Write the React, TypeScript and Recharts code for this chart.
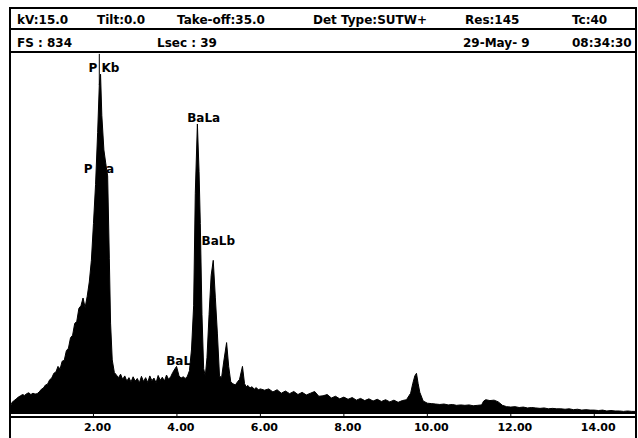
import React from "react";
import { AreaChart, Area, XAxis, YAxis, ReferenceDot, ReferenceLine } from "recharts";

// EDS spectrum, energy in keV, counts (FS = 834)
const KEV = [
  0.0, 0.03, 0.05, 0.1, 0.15, 0.2, 0.25, 0.3, 0.35, 0.4, 0.45, 0.5, 0.55, 0.6, 0.65, 0.7, 0.75, 0.8, 0.85, 0.9,
  0.95, 1.0, 1.05, 1.1, 1.15, 1.2, 1.25, 1.3, 1.35, 1.4, 1.45, 1.5, 1.55, 1.6, 1.65, 1.7, 1.75, 1.8, 1.85, 1.9,
  1.95, 2.0, 2.05, 2.1, 2.14, 2.17, 2.2, 2.25, 2.3, 2.34, 2.38, 2.41, 2.45, 2.5, 2.55, 2.6, 2.65, 2.7, 2.75, 2.8,
  2.85, 2.9, 2.95, 3.0, 3.05, 3.1, 3.15, 3.2, 3.25, 3.3, 3.35, 3.4, 3.45, 3.5, 3.55, 3.6, 3.65, 3.7, 3.75, 3.8,
  3.85, 3.9, 3.95, 3.99, 4.05, 4.1, 4.15, 4.2, 4.25, 4.3, 4.35, 4.4, 4.44, 4.49, 4.53, 4.56, 4.6, 4.64, 4.68, 4.72,
  4.77, 4.82, 4.87, 4.92, 4.97, 5.02, 5.07, 5.12, 5.19, 5.24, 5.29, 5.34, 5.4, 5.45, 5.5, 5.57, 5.62, 5.66, 5.7, 5.75,
  5.8, 5.85, 5.9, 5.95, 6.0, 6.1, 6.2, 6.3, 6.4, 6.5, 6.6, 6.7, 6.8, 6.9, 7.0, 7.1, 7.2, 7.3, 7.4, 7.5,
  7.6, 7.7, 7.8, 7.9, 8.0, 8.1, 8.2, 8.3, 8.4, 8.5, 8.6, 8.7, 8.8, 8.9, 9.0, 9.1, 9.2, 9.3, 9.4, 9.5,
  9.6, 9.65, 9.7, 9.74, 9.78, 9.82, 9.9, 10.0, 10.1, 10.2, 10.3, 10.4, 10.5, 10.6, 10.7, 10.8, 10.9, 11.0, 11.1, 11.2,
  11.3, 11.35, 11.4, 11.5, 11.6, 11.7, 11.8, 11.9, 12.0, 12.1, 12.2, 12.3, 12.4, 12.5, 12.6, 12.7, 12.8, 12.9, 13.0, 13.1,
  13.2, 13.3, 13.4, 13.5, 13.6, 13.7, 13.8, 13.9, 14.0, 14.1, 14.2, 14.3, 14.4, 14.5, 14.6, 14.7, 14.8, 14.9, 15.0,
];

const COUNTS = [
  12, 22, 27, 31, 35, 39, 42, 45, 43, 47, 49, 45, 48, 46, 47, 51, 57, 60, 67, 69,
  79, 83, 94, 97, 110, 104, 122, 124, 146, 152, 176, 182, 209, 214, 244, 250, 268, 246, 272, 305,
  355, 440, 530, 650, 760, 785, 690, 610, 575, 550, 360, 210, 125, 96, 90, 84, 92, 80, 88, 76,
  84, 74, 86, 76, 82, 72, 87, 75, 84, 73, 88, 77, 83, 72, 89, 78, 85, 76, 90, 80,
  86, 96, 104, 110, 88, 83, 86, 82, 87, 100, 150, 250, 510, 670, 560, 440, 230, 105, 88, 130,
  230, 320, 355, 270, 185, 88, 84, 120, 165, 110, 74, 70, 67, 74, 80, 110, 70, 63, 66, 60,
  63, 57, 61, 56, 58, 55, 58, 51, 56, 48, 53, 47, 52, 45, 50, 44, 48, 52, 41, 42,
  45, 37, 41, 35, 39, 34, 38, 32, 36, 31, 35, 30, 34, 29, 33, 28, 32, 27, 31, 33,
  48, 70, 88, 94, 70, 50, 30, 25, 24, 23, 22, 23, 21, 22, 20, 21, 20, 21, 19, 20,
  21, 30, 33, 31, 32, 28, 20, 17, 16, 17, 15, 16, 14, 15, 14, 13, 14, 12, 13, 12,
  12, 11, 12, 10, 11, 9, 10, 9, 9, 8, 9, 7, 8, 7, 7, 6, 7, 6, 6,
];

const X_TICKS = [2, 4, 6, 8, 10, 12, 14];

const HEADER_ROW1 = [
  { text: "kV:15.0", left: 17 },
  { text: "Tilt:0.0", left: 97 },
  { text: "Take-off:35.0", left: 177 },
  { text: "Det Type:SUTW+", left: 313 },
  { text: "Res:145", left: 465 },
  { text: "Tc:40", left: 572 },
];
const HEADER_ROW2 = [
  { text: "FS : 834", left: 17 },
  { text: "Lsec : 39", left: 157 },
  { text: "29-May- 9", left: 463 },
  { text: "08:34:30", left: 572 },
];

const PEAK_LABELS = [
  { text: "P Kb", e: 2.25, c: 800 },
  { text: "P Ka", e: 2.13, c: 566 },
  { text: "BaLa", e: 4.64, c: 684 },
  { text: "BaLb", e: 4.99, c: 401 },
  { text: "BaL", e: 4.04, c: 124 },
];

const data = KEV.map((e, i) => ({ e, c: COUNTS[i] }));

const FONT = '"DejaVu Sans", "Liberation Sans", Arial, sans-serif';

export default function App() {
  return (
    <div
      style={{
        position: "absolute",
        left: 0,
        top: 0,
        width: 638,
        height: 438,
        background: "#fff",
        overflow: "hidden",
        fontFamily: FONT,
        fontWeight: "bold",
        fontSize: 12,
      }}
    >
      {/* outer frame + header rules */}
      <div style={{ position: "absolute", left: 9, top: 7, width: 628, height: 450, border: "2px solid #000", boxSizing: "border-box" }} />
      <div style={{ position: "absolute", left: 9, top: 28, width: 628, height: 2, background: "#000" }} />
      <div style={{ position: "absolute", left: 9, top: 51, width: 628, height: 2, background: "#000" }} />
      <div style={{ position: "absolute", left: 9, top: 416, width: 628, height: 2, background: "#000" }} />

      {HEADER_ROW1.map((h) => (
        <div key={h.text} style={{ position: "absolute", left: h.left, top: 13, whiteSpace: "nowrap" }}>
          {h.text}
        </div>
      ))}
      {HEADER_ROW2.map((h) => (
        <div key={h.text} style={{ position: "absolute", left: h.left, top: 36, whiteSpace: "nowrap" }}>
          {h.text}
        </div>
      ))}

      <div style={{ position: "absolute", left: 10, top: 53 }}>
        <AreaChart width={626} height={385} data={data} margin={{ top: 0, right: 0, bottom: 0, left: 0 }}>
          <XAxis
            type="number"
            dataKey="e"
            domain={[0, 15]}
            ticks={X_TICKS}
            tickFormatter={(v: number) => v.toFixed(2)}
            axisLine={false}
            tickLine={{ stroke: "#000" }}
            tickSize={3}
            tickMargin={6}
            height={24}
            tick={{ fill: "#000", fontSize: 11, fontWeight: "bold", fontFamily: FONT, dx: 4 }}
          />
          <YAxis hide domain={[0, 834]} />
          <Area
            type="linear"
            dataKey="c"
            stroke="#000"
            strokeWidth={1}
            fill="#000"
            fillOpacity={1}
            isAnimationActive={false}
            dot={false}
            activeDot={false}
          />
          <ReferenceLine
            segment={[
              { x: 2.14, y: 760 },
              { x: 2.14, y: 832 },
            ]}
            stroke="#000"
            strokeWidth={1}
          />
          {PEAK_LABELS.map((p) => (
            <ReferenceDot
              key={p.text}
              x={p.e}
              y={p.c}
              r={0}
              fill="none"
              stroke="none"
              label={{
                value: p.text,
                position: "center",
                fill: "#000",
                fontSize: 12,
                fontWeight: "bold",
                fontFamily: FONT,
              }}
            />
          ))}
        </AreaChart>
      </div>
    </div>
  );
}
